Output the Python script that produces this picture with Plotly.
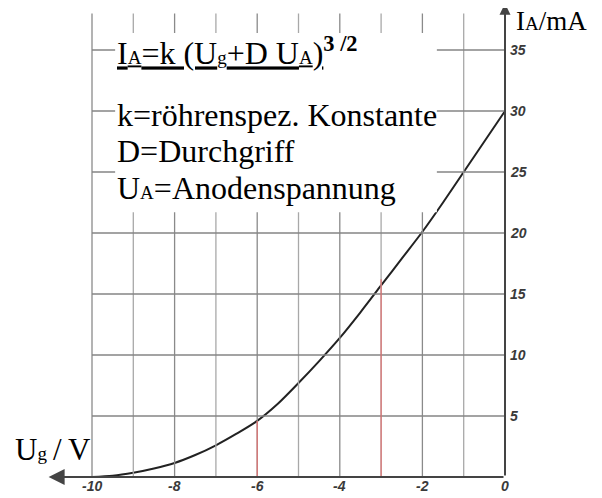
import plotly.graph_objects as go

# grid voltage (V) and anode current (mA)
ug = [-10, -9.5, -9, -8.5, -8, -7.5, -7, -6.5, -6, -5.5, -5,
      -4.5, -4, -3.5, -3, -2.5, -2, -1.5, -1, -0.5, 0]
ia = [0.0, 0.1, 0.35, 0.7, 1.15, 1.8, 2.6, 3.55, 4.6, 6.0, 7.7,
      9.5, 11.4, 13.5, 15.7, 17.9, 20.1, 22.5, 25.0, 27.5, 30.0]

x_ticks = [-10, -8, -6, -4, -2, 0]
y_ticks = [5, 10, 15, 20, 25, 30, 35]
x_grid = [-10, -9, -8, -7, -6, -5, -4, -3, -2, -1]

# red guide lines (Ug, Ia on curve)
guide_ug = [-6, -3]
guide_ia = [4.6, 16.2]

# page body has an 8px margin, so the figure is a bit smaller than the window
PX_X = 41.3
PX_Y = 12.2
W, H = 594, 490
X0_PX, Y0_PX = 497, 469

GRID_TOP = 38.0
SERIF = "Liberation Serif"
SANS = "Liberation Sans"

fig = go.Figure()

shapes = []
for xv in x_grid:
    shapes.append(dict(type="line", x0=xv, x1=xv, y0=0, y1=GRID_TOP,
                       line=dict(color="#a8a8a8" if xv % 2 else "#8a8a8a", width=1.3)))
for yv in y_ticks:
    shapes.append(dict(type="line", x0=-10, x1=0, y0=yv, y1=yv,
                       line=dict(color="#858585", width=1.3)))

# white box behind the text block
shapes.append(dict(type="rect", x0=-9.44, x1=-1.65, y0=21.7, y1=36.4,
                   fillcolor="white", line=dict(width=0)))

for gx, gy in zip(guide_ug, guide_ia):
    shapes.append(dict(type="line", x0=gx, x1=gx, y0=0, y1=gy,
                       line=dict(color="#e07070", width=1.2)))

fig.add_trace(go.Scatter(
    x=ug, y=ia, mode="lines",
    line=dict(color="#222", width=2, shape="spline", smoothing=0.8),
    hoverinfo="skip", showlegend=False,
))

ann = []
# axes with arrow heads
ann.append(dict(x=0, y=38.8, ax=0, ay=0, xref="x", yref="y", axref="x", ayref="y",
                text="", showarrow=True, arrowhead=2, arrowsize=1.1,
                arrowwidth=2, arrowcolor="#444"))
ann.append(dict(x=-11.05, y=0, ax=0, ay=0, xref="x", yref="y", axref="x", ayref="y",
                text="", showarrow=True, arrowhead=2, arrowsize=1.6,
                arrowwidth=2, arrowcolor="#444"))

tick_font = dict(family=SANS, size=14, color="#3a3a3a")
for xv in x_ticks:
    ann.append(dict(x=xv, y=-0.75, xref="x", yref="y", text="<b><i>%d</i></b>" % xv,
                    showarrow=False, xanchor="center", yanchor="middle",
                    font=tick_font))
for yv in y_ticks:
    ann.append(dict(x=0.07, y=yv, xref="x", yref="y", text="<b><i>%d</i></b>" % yv,
                    showarrow=False, xanchor="left", yanchor="middle",
                    font=tick_font))

small = '<span style="font-size:19px">{}</span>'
big_font = dict(family=SERIF, size=32, color="black")

formula = ("<u>I" + small.format("A") + "=k (U" + small.format("g") + "+D U"
           + small.format("A") + ")</u><sup><b>3 /2</b></sup>")
ann.append(dict(x=-9.44, y=34.9, xref="x", yref="y", text=formula,
                showarrow=False, xanchor="left", yanchor="middle", font=big_font))
ann.append(dict(x=-9.44, y=29.67, xref="x", yref="y", text="k=röhrenspez. Konstante",
                showarrow=False, xanchor="left", yanchor="middle", font=big_font))
ann.append(dict(x=-9.44, y=26.75, xref="x", yref="y", text="D=Durchgriff",
                showarrow=False, xanchor="left", yanchor="middle", font=big_font))
ann.append(dict(x=-9.44, y=23.65, xref="x", yref="y",
                text="U" + small.format("A") + "=Anodenspannung",
                showarrow=False, xanchor="left", yanchor="middle", font=big_font))

# axis titles
ann.append(dict(x=0.24, y=37.35, xref="x", yref="y", borderpad=0,
                text="I" + small.format("A") + "/mA",
                showarrow=False, xanchor="left", yanchor="middle",
                font=dict(family=SERIF, size=27, color="black")))
ann.append(dict(x=-11.9, y=2.25, xref="x", yref="y", borderpad=0,
                text="U" + small.format("g") + "\u2009/\u2009V",
                showarrow=False, xanchor="left", yanchor="middle",
                font=dict(family=SERIF, size=31, color="black")))

fig.update_layout(
    width=W, height=H, autosize=False,
    margin=dict(l=0, r=0, t=0, b=0),
    paper_bgcolor="white", plot_bgcolor="white",
    shapes=shapes, annotations=ann, showlegend=False,
    xaxis=dict(range=[-X0_PX / PX_X, (W - X0_PX) / PX_X], visible=False, fixedrange=True),
    yaxis=dict(range=[-(H - Y0_PX) / PX_Y, Y0_PX / PX_Y], visible=False, fixedrange=True),
)

fig.write_html("out.html", config={"displayModeBar": False})
